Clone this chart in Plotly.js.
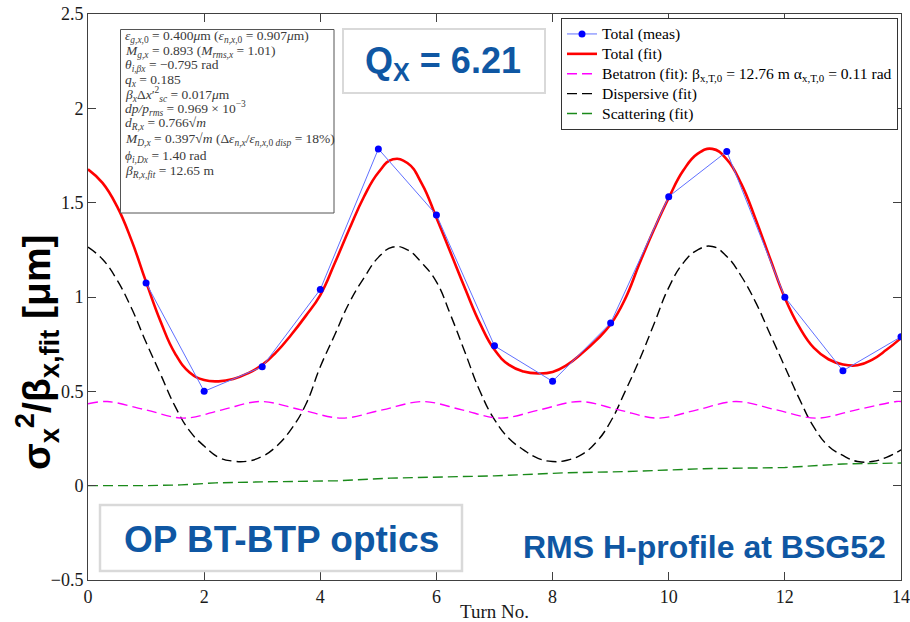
<!DOCTYPE html>
<html>
<head>
<meta charset="utf-8">
<script src="https://cdn.plot.ly/plotly-3.0.1.min.js"></script>
<style>
  html, body { margin: 0; padding: 0; background: #fff; }
  #chart { width: 910px; height: 622px; }
</style>
</head>
<body>
<div id="chart"></div>
<script>
// Measured turn-by-turn beam size (sigma_x^2 / beta_x,fit, in um)
const turnsMeas = [1, 2, 3, 4, 5, 6, 7, 8, 9, 10, 11, 12, 13, 14];
const sigmaMeas = [1.074, 0.500, 0.630, 1.040, 1.785, 1.435, 0.741, 0.553, 0.862, 1.532, 1.771, 0.999, 0.609, 0.789];

// Fit curves, sampled every quarter turn
const turnsFit = [0, 0.25, 0.5, 0.75, 1, 1.25, 1.5, 1.75, 2, 2.25, 2.5, 2.75, 3, 3.25, 3.5, 3.75,
                  4, 4.25, 4.5, 4.75, 5, 5.25, 5.5, 5.75, 6, 6.25, 6.5, 6.75, 7, 7.25, 7.5, 7.75,
                  8, 8.25, 8.5, 8.75, 9, 9.25, 9.5, 9.75, 10, 10.25, 10.5, 10.75, 11, 11.25, 11.5, 11.75,
                  12, 12.25, 12.5, 12.75, 13, 13.25, 13.5, 13.75, 14];
const totalFit = [1.677, 1.605, 1.48, 1.30, 1.08, 0.87, 0.70, 0.60, 0.56, 0.553, 0.565, 0.595, 0.64, 0.71, 0.80, 0.90,
                  1.01, 1.18, 1.36, 1.53, 1.66, 1.73, 1.71, 1.60, 1.42, 1.23, 1.04, 0.86, 0.72, 0.64, 0.605, 0.595,
                  0.603, 0.64, 0.70, 0.77, 0.855, 0.99, 1.18, 1.36, 1.525, 1.67, 1.76, 1.785, 1.73, 1.60, 1.41, 1.20,
                  0.995, 0.84, 0.73, 0.67, 0.642, 0.638, 0.667, 0.72, 0.782];
const dispFit  = [1.264, 1.20, 1.09, 0.94, 0.76, 0.59, 0.42, 0.29, 0.21, 0.15, 0.13, 0.13, 0.155, 0.21, 0.30, 0.43,
                  0.63, 0.80, 0.97, 1.10, 1.21, 1.265, 1.25, 1.18, 1.08, 0.90, 0.70, 0.50, 0.35, 0.25, 0.19, 0.145,
                  0.128, 0.135, 0.165, 0.23, 0.34, 0.50, 0.67, 0.86, 1.05, 1.18, 1.25, 1.268, 1.215, 1.11, 0.97, 0.80,
                  0.63, 0.46, 0.31, 0.21, 0.16, 0.128, 0.128, 0.15, 0.19];

// Betatron component (read at its crests, troughs and mid-points)
const turnsBeta = [0, 0.33, 0.99, 1.65, 2.31, 2.97, 3.67, 4.37, 5.07, 5.77, 6.44, 7.1, 7.78, 8.47, 9.14, 9.81, 10.49, 11.16, 11.85, 12.54, 13.23, 13.92, 14];
const betaFit   = [0.434, 0.446, 0.402, 0.358, 0.402, 0.446, 0.402, 0.358, 0.402, 0.446, 0.402, 0.358, 0.402, 0.446, 0.402, 0.358, 0.402, 0.446, 0.402, 0.358, 0.402, 0.446, 0.446];

// Scattering component
const turnsScat = [0, 1.0, 1.6, 2.2, 3.0, 3.5, 4.3, 5.2, 6.3, 7.0, 8.2, 9.3, 10.6, 12.0, 13.0, 14];
const scatFit   = [0, 0, 0.004, 0.015, 0.020, 0.021, 0.026, 0.040, 0.046, 0.052, 0.068, 0.075, 0.090, 0.096, 0.115, 0.120];

// Axis ticks
const xTickVals = [0, 2, 4, 6, 8, 10, 12, 14];
const yTickVals = [-0.5, 0, 0.5, 1, 1.5, 2, 2.5];
const yTickText = ['\u22120.5', '0', '0.5', '1', '1.5', '2', '2.5'];

// Legend entries
const legendNames = [
  'Total (meas)',
  'Total (fit)',
  'Betatron (fit): β<sub>x,T,0</sub> = 12.76 m α<sub>x,T,0</sub> = 0.11 rad',
  'Dispersive (fit)',
  'Scattering (fit)'
];

// Fit parameters listed in the box at the upper left
const fitParams = [
  '<i>ε</i><sub><i>g,x</i>,0</sub> = 0.400<i>μ</i>m (<i>ε</i><sub><i>n,x</i>,0</sub> = 0.907<i>μ</i>m)',
  '<i>M</i><sub><i>g,x</i></sub> = 0.893 (<i>M</i><sub><i>rms,x</i></sub> = 1.01)',
  '<i>θ</i><sub><i>i,βx</i></sub> = −0.795 rad',
  '<i>q</i><sub><i>x</i></sub> = 0.185',
  '<i>β</i><sub><i>x</i></sub>Δ<i>x</i>′<sup>2</sup><sub><i>sc</i></sub> = 0.017<i>μ</i>m',
  '<i>dp/p</i><sub><i>rms</i></sub> = 0.969 × 10<sup>−3</sup>',
  '<i>d</i><sub><i>R,x</i></sub> = 0.766√<i>m</i>',
  '<i>M</i><sub><i>D,x</i></sub> = 0.397√<i>m</i> (Δ<i>ε</i><sub><i>n,x</i></sub>/<i>ε</i><sub><i>n,x</i>,0 <i>disp</i></sub> = 18%)',
  '<i>ϕ</i><sub><i>i,Dx</i></sub> = 1.40 rad',
  '<i>β</i><sub><i>R,x,fit</i></sub> = 12.65 m'
];

// Plot area in page pixels
const L = 88, T = 14, W = 813, H = 566;
const px = x => (x - L) / W;
const py = y => (T + H - y) / H;

const blue = '#0f57a3';
const serif = 'Liberation Serif, Times New Roman, serif';
const sans = 'Liberation Sans, Arial, sans-serif';
// legend rows are spaced for 13px text, the text itself is set larger
const legendLabel = s => '<span style="font-size:15.6px">' + s + '</span>';

const traces = [
  {
    x: turnsScat, y: scatFit, type: 'scatter', mode: 'lines', name: legendLabel(legendNames[4]),
    line: { color: '#1a8a1a', width: 1.4, dash: '10px,5px' }, legendrank: 5
  },
  {
    x: turnsFit, y: dispFit, type: 'scatter', mode: 'lines', name: legendLabel(legendNames[3]),
    line: { color: '#000000', width: 1.4, dash: '10px,5px', shape: 'spline', smoothing: 1.3 }, legendrank: 4
  },
  {
    x: turnsBeta, y: betaFit, type: 'scatter', mode: 'lines', name: legendLabel(legendNames[2]),
    line: { color: '#ff00ff', width: 1.4, dash: '10px,5px', shape: 'spline', smoothing: 1 }, legendrank: 3
  },
  {
    x: turnsFit, y: totalFit, type: 'scatter', mode: 'lines', name: legendLabel(legendNames[1]),
    line: { color: '#ff0000', width: 2.6, shape: 'spline', smoothing: 1.3 }, legendrank: 2
  },
  {
    x: turnsMeas, y: sigmaMeas, type: 'scatter', mode: 'lines+markers', name: legendLabel(legendNames[0]),
    line: { color: '#6070ff', width: 1 },
    marker: { color: '#0000ff', size: 7 }, legendrank: 1
  }
];

const annotations = [];
// fit parameter lines
const lineY = [36.7, 51.5, 65.5, 80, 94, 108.5, 123, 139, 156, 171.5];
fitParams.forEach((t, i) => {
  annotations.push({
    xref: 'paper', yref: 'paper', x: px(123), y: py(lineY[i]),
    xanchor: 'left', yanchor: 'middle', showarrow: false, align: 'left',
    text: t, font: { family: serif, size: 13.5, color: '#3a3a3a' }
  });
});
// y-axis label
annotations.push({
  xref: 'paper', yref: 'paper', x: px(37), y: py(352), xanchor: 'center', yanchor: 'middle',
  showarrow: false, textangle: -90,
  text: '<b>σ<sub>x</sub><sup>2</sup>/β<sub>x,fit</sub> [μm]</b>',
  font: { family: sans, size: 39, color: '#000000' }
});
// tune
annotations.push({
  xref: 'paper', yref: 'paper', x: px(443), y: py(63), xanchor: 'center', yanchor: 'middle',
  showarrow: false, text: '<b>Q<sub>X</sub> = 6.21</b>',
  font: { family: sans, size: 36, color: blue }
});
// optics
annotations.push({
  xref: 'paper', yref: 'paper', x: px(281), y: py(539), xanchor: 'center', yanchor: 'middle',
  showarrow: false, text: '<b>OP BT-BTP optics</b>',
  font: { family: sans, size: 37, color: blue }
});
// monitor
annotations.push({
  xref: 'paper', yref: 'paper', x: px(704), y: py(547), xanchor: 'center', yanchor: 'middle',
  showarrow: false, text: '<b>RMS H-profile at BSG52</b>',
  font: { family: sans, size: 32, color: blue }
});

const shapes = [
  { type: 'rect', xref: 'paper', yref: 'paper', layer: 'above',
    x0: px(120.5), x1: px(334), y0: py(29.5), y1: py(213),
    line: { color: '#555555', width: 1 }, fillcolor: '#ffffff' },
  { type: 'rect', xref: 'paper', yref: 'paper', layer: 'above',
    x0: px(343), x1: px(545), y0: py(29), y1: py(93),
    line: { color: '#d9d9d9', width: 2 }, fillcolor: '#ffffff' },
  { type: 'rect', xref: 'paper', yref: 'paper', layer: 'above',
    x0: px(100), x1: px(462), y0: py(505), y1: py(571),
    line: { color: '#d9d9d9', width: 2.5 }, fillcolor: '#ffffff' }
];

const axisCommon = {
  showline: true, linecolor: '#404040', linewidth: 1, mirror: 'ticks',
  ticks: 'inside', ticklen: 8, tickwidth: 1, tickcolor: '#404040',
  showgrid: false, zeroline: false,
  tickfont: { family: serif, size: 18, color: '#1a1a1a' }
};

const layout = {
  width: 910, height: 622,
  margin: { l: L, r: 910 - L - W, t: T, b: 622 - T - H, pad: 0 },
  paper_bgcolor: '#ffffff', plot_bgcolor: '#ffffff',
  showlegend: true,
  legend: {
    x: px(898), y: py(18), xanchor: 'right', yanchor: 'top',
    bgcolor: '#ffffff', bordercolor: '#333333', borderwidth: 1,
    font: { family: serif, size: 13, color: '#000000' },
    itemwidth: 30, tracegroupgap: 0
  },
  xaxis: Object.assign({}, axisCommon, {
    range: [0, 14], tickmode: 'array', tickvals: xTickVals,
    title: { text: 'Turn No.', font: { family: serif, size: 19, color: '#1a1a1a' }, standoff: 1 }
  }),
  yaxis: Object.assign({}, axisCommon, {
    range: [-0.5, 2.5], tickmode: 'array', tickvals: yTickVals, ticktext: yTickText
  }),
  annotations: annotations,
  shapes: shapes
};

Plotly.newPlot('chart', traces, layout, { displayModeBar: false, staticPlot: true });
</script>
</body>
</html>
